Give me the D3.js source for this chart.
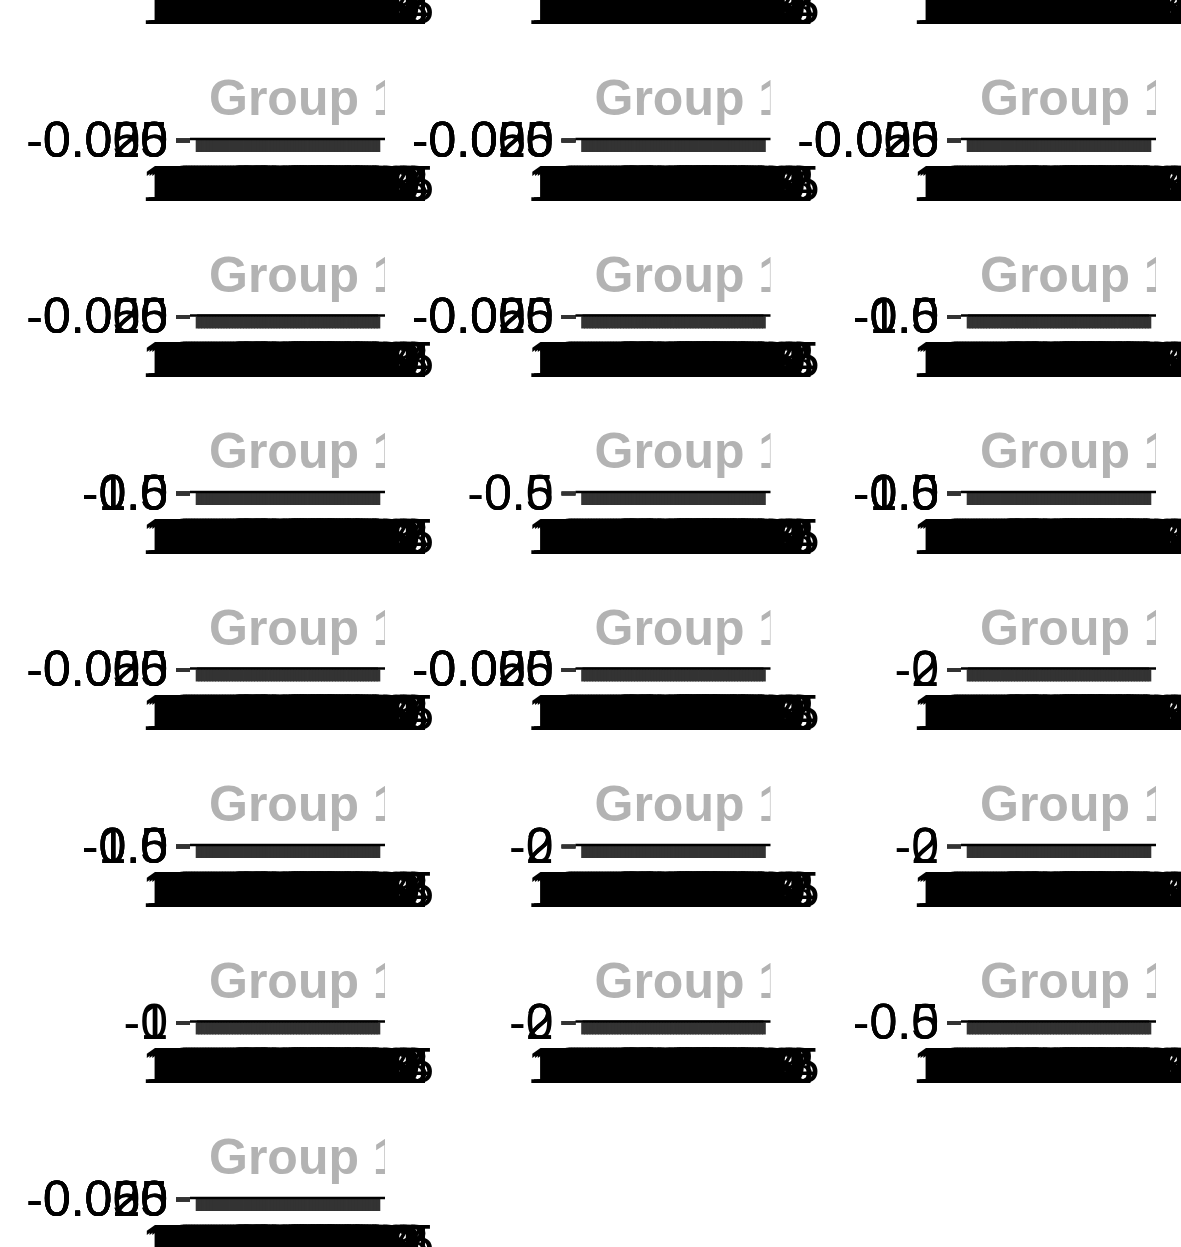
<!DOCTYPE html>
<html>
<head>
<meta charset="utf-8">
<script src="https://cdn.jsdelivr.net/npm/d3@7"></script>
<style>
  html, body { margin: 0; padding: 0; background: #ffffff; }
  svg { display: block; }
  text { font-family: "Liberation Sans", Arial, sans-serif; }
</style>
</head>
<body>
<svg id="chart" width="1181" height="1247"></svg>
<script>
// ---------------- data ----------------
const years = [1950,1951,1952,1953,1954,1955,1956,1957,1958,1959,
               1960,1961,1962,1963,1964,1965,1966,1967,1968,1969,
               1970,1971,1972,1973,1974,1975,1976,1977,1978,1979,
               1980,1981,1982,1983,1984,1985,1986,1987,1988,1989,
               1990,1991,1992,1993,1994,1995,1996,1997,1998,1999,
               2000,2001,2002,2003,2004,2005,2006,2007,2008,2009,
               2010,2011,2012,2013,2014,2015];

// y tick values / labels for the different facet scales
const yTicksA  = [-0.05, -0.025, 0, 0.025, 0.05];
const yLabelsA = ["-0.050", "-0.025", "0.000", "0.025", "0.050"];
const yTicksB  = [-1, -0.5, 0, 0.5, 1];
const yLabelsB = ["-1.0", "-0.5", "0.0", "0.5", "1.0"];
const yTicksC  = [-2, 0, 2];
const yLabelsC = ["-2", "0", "2"];
const yTicksD  = [-1, 0, 1];
const yLabelsD = ["-1", "0", "1"];
const yTicksE  = [-0.5, 0, 0.5];
const yLabelsE = ["-0.5", "0.0", "0.5"];

// series values per scale type (one value per year)
const valuesA = [0,0,0,0,0,0,0,0,0,0, 0,0,0,0,0,0,0,0,0,0,
                 0,0,0,0,0,0,0,0,0,0, 0,0,0,0,0,0,0,0,0,0,
                 0,0,0,0,0,0,0,0,0,0, 0,0,0,0,0,0,0,0,0,0,
                 0,0,0,0,0,0];
const valuesB = [0.2,-0.3,0.5,0.1,-0.6,0.8,0.3,-0.2,0.4,-0.7,
                 0.6,0.1,-0.4,0.9,0.2,-0.5,0.3,0.7,-0.1,0.4,
                 -0.8,0.5,0.2,-0.3,0.6,0.0,-0.6,0.4,0.3,-0.2,
                 0.5,-0.4,0.1,0.7,-0.9,0.3,-0.1,0.6,-0.5,0.2,
                 0.8,-0.3,0.4,-0.7,0.1,0.5,-0.2,0.6,-0.8,0.3,
                 0.0,0.7,-0.5,0.2,0.9,-0.4,0.1,-0.6,0.5,0.3,
                 -0.1,0.4,-0.7,0.8,0.2,-0.3];
const valuesC = [1.1,-0.8,0.6,-1.9,2.1,0.4,-1.2,1.5,-0.3,0.9,
                 -2.0,1.8,0.2,-1.4,0.7,-0.6,1.3,-1.7,2.2,0.1,
                 -0.9,1.6,-1.1,0.5,-2.1,1.0,0.3,-1.5,1.9,-0.4,
                 0.8,-1.3,1.4,-0.2,0.6,-1.8,2.0,-0.7,1.2,-1.0,
                 0.4,1.7,-1.6,0.9,-0.5,1.1,-2.2,1.3,0.0,-0.8,
                 1.9,-1.2,0.5,1.4,-0.9,0.2,-1.6,2.1,-0.3,0.7,
                 -1.4,1.0,0.6,-1.9,1.5,-0.1];
const valuesD = [0.4,-0.6,0.9,-0.2,0.3,-0.9,0.7,0.1,-0.4,0.8,
                 -0.7,0.5,0.0,-0.3,0.6,-0.8,0.2,0.9,-0.5,0.3,
                 -0.1,0.7,-0.6,0.4,-0.9,0.8,0.1,-0.2,0.5,-0.7,
                 0.6,-0.4,0.2,0.9,-0.8,0.3,-0.5,0.7,0.0,-0.3,
                 0.4,-0.9,0.8,-0.1,0.5,-0.6,0.3,0.9,-0.4,0.1,
                 -0.7,0.6,-0.2,0.8,-0.5,0.0,0.4,-0.8,0.7,-0.3,
                 0.2,0.5,-0.9,0.6,-0.1,0.3];
const valuesE = [0.1,-0.2,0.3,-0.4,0.2,0.0,-0.3,0.4,-0.1,0.2,
                 -0.4,0.3,0.1,-0.2,0.4,-0.3,0.2,-0.1,0.3,-0.4,
                 0.1,0.2,-0.3,0.4,0.0,-0.2,0.3,-0.1,0.2,-0.4,
                 0.3,-0.1,0.4,-0.3,0.1,0.2,-0.4,0.3,0.0,-0.2,
                 0.4,-0.3,0.1,0.2,-0.1,0.3,-0.4,0.2,0.0,0.4,
                 -0.2,0.1,-0.3,0.3,-0.1,0.2,0.4,-0.4,0.1,-0.2,
                 0.3,0.0,-0.3,0.2,0.4,-0.1];

// facets (row-major, 3 columns)
const facetLabels = [
  "Group 1 – A","Group 1 – B","Group 1 – C",
  "Group 1 – D","Group 1 – E","Group 1 – F",
  "Group 1 – G","Group 1 – H","Group 1 – I",
  "Group 1 – J","Group 1 – K","Group 1 – L",
  "Group 1 – M","Group 1 – N","Group 1 – O",
  "Group 1 – P","Group 1 – Q","Group 1 – R",
  "Group 1 – S","Group 1 – T","Group 1 – U",
  "Group 1 – V"
];
const facetScales = [
  "A","A","A",
  "A","A","A",
  "A","A","B",
  "B","E","B",
  "A","A","C",
  "B","C","C",
  "D","C","E",
  "A"
];

const scaleInfo = {
  A: { ticks: yTicksA, labels: yLabelsA, values: valuesA },
  B: { ticks: yTicksB, labels: yLabelsB, values: valuesB },
  C: { ticks: yTicksC, labels: yLabelsC, values: valuesC },
  D: { ticks: yTicksD, labels: yLabelsD, values: valuesD },
  E: { ticks: yTicksE, labels: yLabelsE, values: valuesE }
};

// ---------------- drawing ----------------
const svg = d3.select("#chart");
const colStep = 385.5;
const rowStep = 176.5;
const firstRowAxisY = 139 - rowStep; // top row is mostly off the page
const FS = 50;

const defs = svg.append("defs");

facetLabels.forEach((label, i) => {
  const col = i % 3;
  const row = Math.floor(i / 3);
  const info = scaleInfo[facetScales[i]];
  const ox = col * colStep;
  const oy = firstRowAxisY + row * rowStep;

  const g = svg.append("g").attr("transform", `translate(${ox},${oy})`);

  const x = d3.scalePoint().domain(years).range([197, 378]);
  const y = d3.scaleLinear()
    .domain([d3.min(info.ticks), d3.max(info.ticks)])
    .range([0, 0]); // collapsed panel height

  // strip text (clipped to the panel width)
  const clipId = "clip" + i;
  defs.append("clipPath").attr("id", clipId)
    .append("rect").attr("x", ox + 190).attr("y", oy - 90).attr("width", 195).attr("height", 90);
  svg.append("g").attr("clip-path", `url(#${clipId})`)
    .append("text")
    .attr("x", ox + 209)
    .attr("y", oy - 24)
    .attr("font-size", FS)
    .attr("font-weight", "bold")
    .attr("fill", "#b3b3b3")
    .text(label);

  // y axis
  const yAxis = g.append("g")
    .attr("transform", "translate(190,1)")
    .call(d3.axisLeft(y)
      .tickValues(info.ticks)
      .tickFormat((d, k) => info.labels[k])
      .tickSize(14)
      .tickPadding(8));
  yAxis.select(".domain").remove();
  yAxis.selectAll(".tick line").attr("stroke", "#333333").attr("stroke-width", 4);
  yAxis.selectAll(".tick text")
    .attr("font-size", FS)
    .attr("font-family", "Liberation Sans, Arial, sans-serif")
    .attr("fill", "#000000");

  // x axis
  const xAxis = g.append("g")
    .attr("transform", "translate(0,1)")
    .call(d3.axisBottom(x).tickSize(12).tickPadding(13).tickSizeOuter(0));
  xAxis.select(".domain").remove();
  xAxis.selectAll(".tick line").attr("stroke", "#333333").attr("stroke-width", 3.6);
  xAxis.selectAll(".tick text")
    .attr("font-size", FS)
    .attr("font-family", "Liberation Sans, Arial, sans-serif")
    .attr("fill", "#000000");

  // axis line
  g.append("line")
    .attr("x1", 190).attr("x2", 385)
    .attr("y1", 0).attr("y2", 0)
    .attr("stroke", "#000000")
    .attr("stroke-width", 2.5);

  // series (collapsed onto the axis line)
  g.append("path")
    .datum(info.values)
    .attr("fill", "none")
    .attr("stroke", "#000000")
    .attr("stroke-width", 2)
    .attr("d", d3.line().x((d, k) => x(years[k])).y(d => y(d)));
});
</script>
</body>
</html>
